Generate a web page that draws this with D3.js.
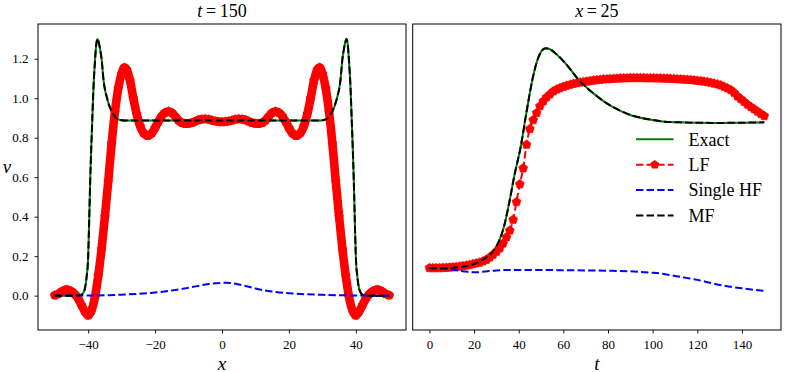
<!DOCTYPE html>
<html>
<head>
<meta charset="utf-8">
<script src="https://cdn.jsdelivr.net/npm/d3@7"></script>
<style>
  body { margin: 0; background: #fff; }
  svg { display: block; font-family: "Liberation Serif", serif; }
</style>
</head>
<body>
<script>
// ---- data ----
// left panel: profiles at t = 150, pairs of [x, v]
const exactLeft = [[-50,0],[-45,0],[-43,0.001],[-42,0.005],[-41.5,0.014],[-41,0.035],[-40.5,0.09],[-40,0.2],[-39.7,0.38],[-39.4,0.58],[-39.1,0.74],[-38.8,0.88],[-38.4,1.06],[-38,1.18],[-37.6,1.27],[-37.2,1.3],[-36.8,1.28],[-36.4,1.245],[-36,1.2],[-35.4,1.09],[-35,1.045],[-34.5,1.01],[-34,0.978],[-33.5,0.953],[-33,0.935],[-32.5,0.92],[-32,0.908],[-31.5,0.898],[-30.5,0.89],[-29,0.887],[-20,0.887],[0,0.887],[20,0.887],[29,0.887],[30.5,0.89],[31.5,0.898],[32,0.908],[32.5,0.92],[33,0.935],[33.5,0.953],[34,0.978],[34.5,1.01],[35,1.045],[35.4,1.09],[36,1.2],[36.4,1.245],[36.8,1.28],[37.2,1.3],[37.6,1.27],[38,1.18],[38.4,1.06],[38.8,0.88],[39.1,0.74],[39.4,0.58],[39.7,0.38],[40,0.2],[40.5,0.09],[41,0.035],[41.5,0.014],[42,0.005],[43,0.001],[45,0],[50,0]];
const mfLeft = exactLeft; // MF sits on top of the exact solution
const lfLeft = [[-50,0.002],[-49,0.008],[-48,0.02],[-47,0.028],[-46.5,0.03],[-46,0.029],[-45,0.022],[-44,0.008],[-43,-0.015],[-42,-0.048],[-41,-0.08],[-40,-0.1],[-39,-0.075],[-38,-0.01],[-37,0.1],[-36,0.235],[-35,0.4],[-34,0.58],[-33,0.77],[-32,0.93],[-31,1.05],[-30,1.125],[-29.2,1.155],[-28.5,1.145],[-27.5,1.09],[-26.5,1.0],[-25.5,0.92],[-24.5,0.86],[-23.5,0.825],[-22.2,0.81],[-21,0.823],[-20,0.85],[-19,0.882],[-18,0.91],[-17,0.927],[-16,0.933],[-15,0.927],[-14,0.908],[-13,0.888],[-12,0.876],[-11,0.871],[-10,0.872],[-9,0.876],[-8,0.883],[-7,0.89],[-6,0.894],[-5,0.895],[-4,0.893],[-3,0.888],[-2,0.884],[-1,0.881],[0,0.88],[1,0.881],[2,0.884],[3,0.888],[4,0.893],[5,0.895],[6,0.894],[7,0.89],[8,0.883],[9,0.876],[10,0.872],[11,0.871],[12,0.876],[13,0.888],[14,0.908],[15,0.927],[16,0.933],[17,0.927],[18,0.91],[19,0.882],[20,0.85],[21,0.823],[22.2,0.81],[23.5,0.825],[24.5,0.86],[25.5,0.92],[26.5,1.0],[27.5,1.09],[28.5,1.145],[29.2,1.155],[30,1.125],[31,1.05],[32,0.93],[33,0.77],[34,0.58],[35,0.4],[36,0.235],[37,0.1],[38,-0.01],[39,-0.075],[40,-0.1],[41,-0.08],[42,-0.048],[43,-0.015],[44,0.008],[45,0.022],[46,0.029],[46.5,0.03],[47,0.028],[48,0.02],[49,0.008],[50,0.002]];
const hfLeft = [[-50,0],[-40,0.001],[-35,0.002],[-30,0.005],[-25,0.009],[-20,0.016],[-15,0.026],[-10,0.04],[-5,0.056],[-2,0.063],[1,0.065],[3,0.063],[5,0.057],[8,0.045],[10,0.036],[15,0.021],[20,0.012],[25,0.007],[30,0.004],[35,0.002],[40,0.001],[45,0],[50,0]];

// right panel: histories at x = 25, pairs of [t, v]
const exactRight = [[0,0.139],[5,0.139],[10,0.141],[15,0.147],[20,0.16],[22.5,0.172],[25,0.19],[28,0.218],[30,0.25],[31.5,0.285],[33.4,0.35],[35.7,0.468],[37.9,0.6],[40.9,0.755],[43.4,0.924],[46.1,1.093],[48,1.18],[50,1.235],[52,1.253],[54,1.248],[57,1.222],[60.9,1.177],[66.9,1.093],[74.3,1.017],[80,0.97],[84.7,0.941],[90,0.915],[93.6,0.904],[100,0.89],[105.5,0.881],[112,0.878],[120,0.876],[130,0.875],[140,0.876],[150,0.878]];
const mfRight = exactRight;
const hfRight = [[0,0.139],[5,0.137],[10,0.132],[15,0.124],[20,0.118],[25,0.122],[30,0.128],[35,0.13],[45,0.13],[60,0.129],[80,0.126],[90,0.123],[100,0.116],[105,0.11],[110,0.1],[115,0.09],[120,0.08],[125,0.067],[130,0.054],[135,0.045],[140,0.037],[145,0.03],[150,0.024]];
const lfRightT = d3.range(0, 151, 1.5);
const lfRightV = [
  0.140, 0.140, 0.140, 0.140, 0.141, 0.142, 0.143, 0.144, 0.146, 0.148,
  0.150, 0.153, 0.156, 0.160, 0.164, 0.168, 0.174, 0.182, 0.194, 0.208,
  0.222, 0.240, 0.265, 0.296, 0.330, 0.385, 0.475, 0.565, 0.645, 0.765,
  0.845, 0.890, 0.925, 0.960, 0.985, 1.005, 1.020, 1.035, 1.045, 1.052,
  1.058, 1.064, 1.069, 1.073, 1.077, 1.080, 1.083, 1.085, 1.088, 1.090,
  1.092, 1.094, 1.096, 1.097, 1.098, 1.099, 1.100, 1.101, 1.102, 1.102,
  1.103, 1.103, 1.103, 1.103, 1.103, 1.102, 1.102, 1.102, 1.101, 1.101,
  1.100, 1.100, 1.099, 1.098, 1.097, 1.096, 1.095, 1.094, 1.093, 1.091,
  1.089, 1.087, 1.085, 1.082, 1.079, 1.075, 1.071, 1.066, 1.059, 1.051,
  1.042, 1.028, 1.010, 0.996, 0.982, 0.968, 0.956, 0.945, 0.933, 0.921,
  0.910
];
const lfRight = lfRightT.map((t, i) => [t, lfRightV[i]]);

const xTicksLeft = [-40, -20, 0, 20, 40];
const tTicksRight = [0, 20, 40, 60, 80, 100, 120, 140];
const vTicks = [0, 0.2, 0.4, 0.6, 0.8, 1.0, 1.2];
const legendLabels = ["Exact", "LF", "Single HF", "MF"];

// ---- layout ----
const width = 785, height = 372;
const plotTop = 24, plotBottom = 330;

const svg = d3.select("body").append("svg")
  .attr("width", width)
  .attr("height", height);

const y = d3.scaleLinear().domain([-0.174, 1.376]).range([plotBottom, plotTop]);
const xL = d3.scaleLinear().domain([-55, 55]).range([38, 406]);
const xR = d3.scaleLinear().domain([-7.5, 157.5]).range([412.7, 781]);

const minus = (s) => String(s).replace("-", "\u2212");

function pentagon(r) {
  const pts = d3.range(5).map((k) => {
    const a = -Math.PI / 2 + (k * 2 * Math.PI) / 5;
    return [r * Math.cos(a), r * Math.sin(a)];
  });
  return "M" + pts.map((p) => p.join(",")).join("L") + "Z";
}

const styles = {
  exact: { stroke: "#008000", width: 2, dash: null },
  hf: { stroke: "#0000ff", width: 2, dash: "7.4,3.2" },
  mf: { stroke: "#000000", width: 2, dash: "7.4,3.2" },
  lf: { stroke: "#ff0000", width: 2, dash: "7.4,3.2" }
};

function drawLine(g, x, data, st) {
  const line = d3.line()
    .x((d) => x(d[0]))
    .y((d) => y(d[1]))
    .curve(d3.curveMonotoneX);
  g.append("path")
    .datum(data)
    .attr("fill", "none")
    .attr("stroke", st.stroke)
    .attr("stroke-width", st.width)
    .attr("stroke-dasharray", st.dash)
    .attr("d", line);
}

function drawMarkers(g, x, data, r) {
  g.append("g")
    .selectAll("path")
    .data(data)
    .join("path")
    .attr("d", pentagon(r))
    .attr("transform", (d) => `translate(${x(d[0])},${y(d[1])})`)
    .attr("fill", "#ff0000")
    .attr("stroke", "#ff0000")
    .attr("stroke-width", 0.6);
}

function frame(x) {
  const [x0, x1] = x.range();
  svg.append("rect")
    .attr("x", x0).attr("y", plotTop)
    .attr("width", x1 - x0).attr("height", plotBottom - plotTop)
    .attr("fill", "none")
    .attr("stroke", "#000")
    .attr("stroke-width", 1);
}

function styleAxis(g) {
  g.select(".domain").remove();
  g.selectAll("line").attr("stroke", "#000").attr("stroke-width", 0.9);
  g.selectAll("text")
    .attr("fill", "#000")
    .attr("font-family", "Liberation Serif, serif")
    .attr("font-size", 13);
}

// ---- left panel ----
const gl = svg.append("g");
drawLine(gl, xL, exactLeft, styles.exact);
// LF band: dense markers in the original, drawn as a thick stroke plus markers
gl.append("path")
  .datum(lfLeft)
  .attr("fill", "none")
  .attr("stroke", "#ff0000")
  .attr("stroke-width", 8.6)
  .attr("stroke-linejoin", "round")
  .attr("stroke-linecap", "round")
  .attr("d", d3.line().x((d) => xL(d[0])).y((d) => y(d[1])).curve(d3.curveMonotoneX));
drawMarkers(gl, xL, lfLeft, 4.6);
drawLine(gl, xL, hfLeft, styles.hf);
drawLine(gl, xL, mfLeft, styles.mf);

frame(xL);

svg.append("g")
  .attr("transform", `translate(0,${plotBottom})`)
  .call(d3.axisBottom(xL).tickValues(xTicksLeft).tickSize(3.5).tickPadding(6).tickFormat((d) => minus(d)))
  .call(styleAxis);

svg.append("g")
  .attr("transform", `translate(${xL.range()[0]},0)`)
  .call(d3.axisLeft(y).tickValues(vTicks).tickSize(3.5).tickPadding(6).tickFormat((d) => minus(d3.format(".1f")(d))))
  .call(styleAxis);

// ---- right panel ----
const gr = svg.append("g");
drawLine(gr, xR, exactRight, styles.exact);
drawLine(gr, xR, lfRight, styles.lf);
drawMarkers(gr, xR, lfRight, 4.7);
drawLine(gr, xR, hfRight, styles.hf);
drawLine(gr, xR, mfRight, styles.mf);

frame(xR);

svg.append("g")
  .attr("transform", `translate(0,${plotBottom})`)
  .call(d3.axisBottom(xR).tickValues(tTicksRight).tickSize(3.5).tickPadding(6))
  .call(styleAxis);

// ---- titles and labels ----
function mathText(x, yPos, size, parts, anchor) {
  const t = svg.append("text")
    .attr("x", x).attr("y", yPos)
    .attr("text-anchor", anchor || "middle")
    .attr("font-size", size)
    .attr("fill", "#000");
  parts.forEach(([s, italic]) => {
    t.append("tspan")
      .attr("font-style", italic ? "italic" : "normal")
      .text(s);
  });
}

const midL = (xL.range()[0] + xL.range()[1]) / 2;
const midR = (xR.range()[0] + xR.range()[1]) / 2;
mathText(midL, 17, 18, [["t", true], ["\u2009=\u2009150", false]]);
mathText(midR, 17, 18, [["x", true], ["\u2009=\u200925", false]]);
mathText(midL, 369.5, 19, [["x", true]]);
mathText(midR, 369.5, 19, [["t", true]]);
mathText(7, 173, 19, [["v", true]]);

// ---- legend ----
const legendKeys = ["exact", "lf", "hf", "mf"];
const leg = svg.append("g").attr("transform", "translate(636,139.3)");
legendLabels.forEach((label, i) => {
  const st = styles[legendKeys[i]];
  const row = leg.append("g").attr("transform", `translate(0,${i * 25.4})`);
  row.append("line")
    .attr("x1", 0).attr("x2", 37.5)
    .attr("stroke", st.stroke)
    .attr("stroke-width", st.width)
    .attr("stroke-dasharray", st.dash);
  if (legendKeys[i] === "lf") {
    row.append("path")
      .attr("d", pentagon(4.8))
      .attr("transform", "translate(18.75,0)")
      .attr("fill", "#ff0000");
  }
  row.append("text")
    .attr("x", 52.5)
    .attr("dy", "0.35em")
    .attr("font-size", 18)
    .attr("fill", "#000")
    .text(label);
});
</script>
</body>
</html>
